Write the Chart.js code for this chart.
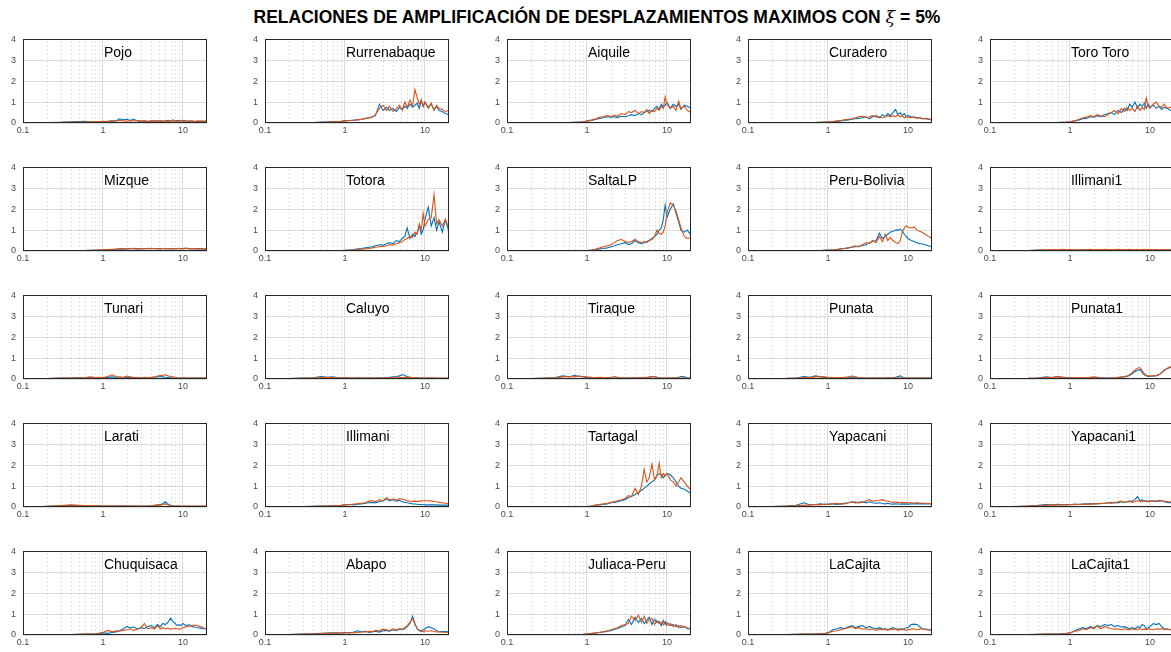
<!DOCTYPE html>
<html lang="es">
<head>
<meta charset="utf-8">
<title>Relaciones de amplificación</title>
<script src="https://cdn.jsdelivr.net/npm/chart.js@4.4.1/dist/chart.umd.min.js"></script>
<style>
  html, body { margin: 0; padding: 0; background: #fff; overflow: hidden; }
  body { width: 1171px; height: 652px; position: relative; font-family: "Liberation Sans", Arial, sans-serif; }
  #titulo { position: absolute; left: 0; width: 1194px; top: 9px; text-align: center; font-weight: bold;
            font-size: 17.5px; line-height: 17px; color: #000; white-space: nowrap; }
  #titulo i { font-family: "DejaVu Serif", serif; font-weight: normal; }
  canvas { position: absolute; }
</style>
</head>
<body>
<div id="titulo">RELACIONES DE AMPLIFICACIÓN DE DESPLAZAMIENTOS MAXIMOS CON <i>ξ</i> = 5%</div>
<script>
// frecuencias (Hz) comunes a todas las curvas
const frecuencias = [0.1, 0.2, 0.3, 0.4, 0.5, 0.6, 0.7, 0.8, 0.9, 1, 1.15, 1.3, 1.45, 1.6, 1.8, 2, 2.2, 2.4, 2.7, 3, 3.3, 3.6, 4, 4.4, 4.8, 5.2, 5.6, 6, 6.5, 7, 7.5, 8, 8.5, 9, 9.5, 10, 11, 12, 13, 14, 15, 16.5, 18, 20];

const ticksMayores = [0.1, 1, 10];
const ticksMenores = [0.2, 0.3, 0.4, 0.5, 0.6, 0.7, 0.8, 0.9, 2, 3, 4, 5, 6, 7, 8, 9];
const ticksY = [0, 1, 2, 3, 4];

// fila 1
const pojoAzul = [0.01,0.02,0.03,0.06,0.07,0.08,0.06,0.05,0.07,0.06, 0.08,0.1,0.09,0.2,0.15,0.18,0.12,0.19,0.1,0.08, 0.1,0.07,0.09,0.1,0.08,0.12,0.07,0.1,0.13,0.09, 0.15,0.1,0.12,0.13,0.1,0.12,0.1,0.09,0.08,0.07, 0.08,0.06,0.07,0.06];
const pojoNaranja = [0.01,0.02,0.03,0.04,0.05,0.06,0.05,0.07,0.06,0.08, 0.07,0.09,0.1,0.12,0.1,0.09,0.11,0.1,0.12,0.09, 0.1,0.08,0.1,0.09,0.1,0.08,0.09,0.1,0.08,0.1, 0.09,0.1,0.08,0.1,0.09,0.1,0.08,0.09,0.1,0.08, 0.09,0.1,0.09,0.1];
const rurrenabaqueAzul = [0,0,0.01,0.02,0.04,0.05,0.06,0.07,0.08,0.1, 0.12,0.14,0.15,0.18,0.2,0.25,0.3,0.35,0.9,0.6, 0.75,0.6,0.7,0.55,0.75,0.65,0.8,0.7,0.9,0.75, 0.85,0.95,0.7,1.1,0.8,1.0,0.75,0.9,0.65,0.8, 0.6,0.55,0.45,0.4];
const rurrenabaqueNaranja = [0,0,0.01,0.02,0.03,0.05,0.06,0.07,0.08,0.1, 0.12,0.13,0.16,0.17,0.22,0.25,0.28,0.4,0.7,0.85, 0.6,0.8,0.55,0.7,0.85,0.6,1.0,0.75,1.1,0.8, 1.6,1.2,0.9,1.1,0.8,1.0,0.7,0.95,0.6,0.85, 0.7,0.65,0.55,0.6];
const aiquileAzul = [0,0,0.01,0.01,0.02,0.02,0.03,0.04,0.05,0.08, 0.12,0.18,0.22,0.25,0.3,0.28,0.3,0.26,0.32,0.3, 0.35,0.4,0.35,0.45,0.4,0.5,0.55,0.6,0.55,0.7, 0.8,0.65,0.9,0.75,0.85,1.0,0.7,0.9,0.8,0.9, 0.65,0.85,0.8,0.7];
const aiquileNaranja = [0,0,0.01,0.01,0.02,0.02,0.03,0.04,0.06,0.1, 0.15,0.2,0.28,0.3,0.35,0.3,0.38,0.32,0.45,0.4, 0.55,0.5,0.6,0.45,0.55,0.5,0.65,0.45,0.6,0.55, 0.7,0.6,0.8,0.7,1.25,0.9,0.7,0.8,0.6,1.05, 0.7,0.8,0.6,0.5];
const curaderoAzul = [0,0,0,0.01,0.01,0.02,0.02,0.03,0.03,0.05, 0.06,0.08,0.1,0.12,0.15,0.18,0.2,0.22,0.25,0.3, 0.2,0.3,0.35,0.25,0.4,0.3,0.45,0.35,0.5,0.65, 0.4,0.5,0.35,0.45,0.3,0.35,0.3,0.28,0.25,0.25, 0.22,0.2,0.18,0.15];
const curaderoNaranja = [0,0,0,0.01,0.01,0.02,0.02,0.03,0.04,0.05, 0.07,0.1,0.12,0.15,0.18,0.2,0.25,0.3,0.32,0.25, 0.3,0.35,0.28,0.3,0.25,0.3,0.35,0.3,0.35,0.3, 0.4,0.3,0.35,0.25,0.3,0.28,0.25,0.28,0.22,0.25, 0.2,0.22,0.2,0.15];
const toroToroAzul = [0,0,0,0.01,0.01,0.02,0.02,0.03,0.04,0.06, 0.1,0.15,0.2,0.22,0.3,0.28,0.35,0.3,0.4,0.45, 0.5,0.4,0.6,0.5,0.7,0.6,0.9,0.75,1.0,0.7, 0.9,0.8,0.95,0.7,0.9,0.75,0.85,0.7,0.8,0.65, 0.75,0.7,0.6,0.55];
const toroToroNaranja = [0,0,0,0.01,0.01,0.02,0.02,0.03,0.04,0.06, 0.1,0.18,0.25,0.28,0.35,0.3,0.4,0.35,0.3,0.4, 0.5,0.6,0.45,0.7,0.55,0.75,0.6,0.7,0.55,0.8, 0.6,0.75,0.65,1.2,0.8,0.7,0.9,1.0,0.8,0.75, 0.9,0.7,0.75,0.7];

// fila 2
const mizqueAzul = [0,0,0.01,0.01,0.02,0.02,0.03,0.03,0.04,0.05, 0.06,0.07,0.08,0.1,0.09,0.1,0.12,0.1,0.11,0.1, 0.12,0.1,0.13,0.11,0.12,0.1,0.12,0.1,0.11,0.12, 0.1,0.11,0.12,0.13,0.1,0.12,0.14,0.1,0.12,0.1, 0.11,0.1,0.1,0.09];
const mizqueNaranja = [0,0,0.01,0.01,0.02,0.02,0.03,0.04,0.05,0.06, 0.07,0.08,0.09,0.1,0.12,0.1,0.11,0.13,0.1,0.12, 0.11,0.13,0.1,0.12,0.11,0.1,0.13,0.11,0.12,0.1, 0.12,0.11,0.1,0.12,0.11,0.1,0.12,0.11,0.1,0.12, 0.1,0.11,0.1,0.1];
const totoraAzul = [0,0,0,0,0,0.01,0.01,0.02,0.02,0.03, 0.05,0.07,0.1,0.12,0.15,0.18,0.2,0.25,0.3,0.28, 0.35,0.4,0.35,0.5,0.45,0.6,0.7,1.1,0.6,0.8, 0.7,0.9,1.2,0.8,1.0,1.5,2.1,1.2,1.6,1.0, 1.4,0.9,1.5,0.9];
const totoraNaranja = [0,0,0,0,0,0.01,0.01,0.01,0.02,0.03, 0.04,0.05,0.07,0.09,0.1,0.12,0.15,0.18,0.2,0.22, 0.25,0.3,0.28,0.35,0.4,0.45,0.55,0.6,0.7,0.65, 0.9,0.8,1.3,1.0,1.8,1.2,1.5,1.6,2.7,1.3, 1.5,1.2,1.5,1.1];
const saltaAzul = [0,0,0,0,0,0,0,0.01,0.01,0.02, 0.04,0.07,0.1,0.12,0.15,0.2,0.25,0.3,0.35,0.4, 0.3,0.35,0.5,0.4,0.35,0.4,0.45,0.5,0.6,0.7, 0.8,1.0,1.1,1.5,2.2,1.6,2.0,2.25,1.8,1.4, 1.0,0.9,1.0,0.75];
const saltaNaranja = [0,0,0,0,0,0,0,0.01,0.01,0.02, 0.05,0.1,0.15,0.2,0.25,0.3,0.4,0.5,0.55,0.45, 0.4,0.45,0.55,0.45,0.4,0.45,0.4,0.5,0.55,0.7, 1.0,0.85,0.8,0.9,1.2,1.8,2.3,2.2,1.9,1.5, 1.1,0.7,0.6,0.65];
const peruBoliviaAzul = [0,0,0,0,0.01,0.01,0.02,0.02,0.03,0.04, 0.05,0.07,0.1,0.12,0.15,0.18,0.2,0.22,0.25,0.3, 0.4,0.45,0.5,0.85,0.6,0.7,0.8,0.9,0.95,1.0, 1.0,1.05,0.95,0.8,0.7,0.6,0.5,0.45,0.4,0.35, 0.35,0.3,0.25,0.2];
const peruBoliviaNaranja = [0,0,0,0,0.01,0.01,0.02,0.02,0.03,0.04, 0.05,0.07,0.1,0.12,0.15,0.2,0.25,0.2,0.3,0.4, 0.35,0.5,0.4,0.7,0.45,0.8,0.5,0.65,0.5,0.4, 0.35,0.5,0.9,1.1,1.2,1.15,1.1,1.15,1.0,0.95, 0.9,0.8,0.7,0.6];
const illimani1Azul = [0,0.01,0.02,0.04,0.05,0.06,0.05,0.06,0.05,0.05, 0.04,0.05,0.06,0.05,0.06,0.05,0.07,0.06,0.05,0.06, 0.05,0.06,0.07,0.05,0.06,0.05,0.06,0.05,0.06,0.07, 0.05,0.06,0.05,0.06,0.05,0.06,0.05,0.06,0.05,0.06, 0.05,0.05,0.05,0.05];
const illimani1Naranja = [0,0.01,0.02,0.04,0.06,0.07,0.06,0.08,0.06,0.07, 0.06,0.05,0.07,0.06,0.08,0.06,0.07,0.06,0.08,0.07, 0.06,0.07,0.08,0.06,0.07,0.06,0.08,0.07,0.06,0.08, 0.06,0.07,0.08,0.07,0.06,0.07,0.06,0.07,0.06,0.07, 0.06,0.07,0.06,0.06];

// fila 3
const tunariAzul = [0,0.02,0.04,0.05,0.06,0.05,0.07,0.06,0.05,0.06, 0.08,0.1,0.07,0.06,0.05,0.08,0.07,0.06,0.05,0.06, 0.05,0.07,0.06,0.08,0.1,0.12,0.1,0.08,0.07,0.06, 0.05,0.05,0.05,0.04,0.04,0.04,0.04,0.04,0.04,0.04, 0.04,0.04,0.04,0.04];
const tunariNaranja = [0,0.02,0.04,0.05,0.06,0.07,0.1,0.07,0.08,0.07, 0.12,0.2,0.12,0.1,0.08,0.14,0.1,0.08,0.07,0.06, 0.08,0.07,0.08,0.1,0.14,0.16,0.18,0.2,0.15,0.12, 0.1,0.08,0.06,0.05,0.05,0.05,0.05,0.05,0.05,0.05, 0.05,0.05,0.05,0.05];
const caluyoAzul = [0,0.02,0.04,0.06,0.12,0.08,0.1,0.07,0.06,0.06, 0.05,0.05,0.06,0.05,0.04,0.05,0.04,0.05,0.06,0.05, 0.07,0.08,0.1,0.12,0.15,0.2,0.18,0.1,0.08,0.07, 0.06,0.06,0.05,0.05,0.04,0.04,0.04,0.04,0.04,0.03, 0.03,0.03,0.03,0.03];
const caluyoNaranja = [0,0.02,0.04,0.05,0.07,0.08,0.06,0.07,0.06,0.05, 0.06,0.05,0.06,0.05,0.05,0.06,0.05,0.05,0.06,0.05, 0.05,0.06,0.07,0.06,0.08,0.07,0.08,0.09,0.08,0.07, 0.06,0.06,0.05,0.05,0.05,0.04,0.04,0.04,0.04,0.04, 0.04,0.04,0.04,0.04];
const tiraqueAzul = [0,0.02,0.04,0.07,0.15,0.1,0.18,0.12,0.1,0.08, 0.06,0.05,0.06,0.05,0.07,0.06,0.05,0.06,0.05,0.04, 0.05,0.06,0.05,0.06,0.07,0.06,0.05,0.08,0.1,0.12, 0.08,0.06,0.05,0.05,0.05,0.04,0.05,0.06,0.05,0.08, 0.12,0.1,0.06,0.05];
const tiraqueNaranja = [0,0.02,0.04,0.06,0.1,0.12,0.1,0.14,0.12,0.1, 0.08,0.07,0.08,0.07,0.06,0.08,0.12,0.08,0.06,0.05, 0.06,0.05,0.06,0.07,0.06,0.08,0.07,0.1,0.12,0.1, 0.08,0.06,0.05,0.05,0.04,0.04,0.04,0.04,0.04,0.04, 0.04,0.04,0.04,0.04];
const punataAzul = [0,0.02,0.03,0.05,0.12,0.08,0.15,0.1,0.08,0.07, 0.06,0.05,0.06,0.05,0.06,0.07,0.06,0.05,0.04,0.05, 0.04,0.05,0.04,0.05,0.04,0.05,0.06,0.05,0.06,0.08, 0.12,0.15,0.1,0.06,0.05,0.04,0.04,0.04,0.04,0.04, 0.04,0.04,0.04,0.04];
const punataNaranja = [0,0.02,0.03,0.05,0.07,0.08,0.1,0.12,0.1,0.08, 0.07,0.06,0.07,0.08,0.1,0.14,0.12,0.07,0.06,0.05, 0.05,0.05,0.06,0.05,0.05,0.06,0.05,0.06,0.05,0.05, 0.06,0.06,0.05,0.05,0.05,0.04,0.04,0.04,0.04,0.04, 0.04,0.04,0.04,0.04];
const punata1Azul = [0,0.02,0.03,0.05,0.1,0.07,0.12,0.08,0.07,0.06, 0.05,0.05,0.06,0.05,0.06,0.07,0.08,0.06,0.05,0.04, 0.04,0.05,0.06,0.08,0.1,0.12,0.18,0.25,0.35,0.42, 0.45,0.3,0.2,0.15,0.12,0.12,0.14,0.15,0.2,0.3, 0.4,0.5,0.55,0.6];
const punata1Naranja = [0,0.02,0.03,0.05,0.07,0.08,0.1,0.09,0.07,0.06, 0.06,0.06,0.07,0.06,0.08,0.1,0.07,0.06,0.05,0.05, 0.05,0.06,0.08,0.1,0.12,0.15,0.22,0.3,0.42,0.52, 0.55,0.4,0.25,0.18,0.15,0.15,0.15,0.17,0.22,0.32, 0.42,0.52,0.58,0.62];

// fila 4
const laratiAzul = [0,0.03,0.06,0.08,0.07,0.06,0.05,0.06,0.05,0.04, 0.05,0.04,0.05,0.04,0.05,0.04,0.03,0.04,0.03,0.04, 0.03,0.04,0.05,0.06,0.1,0.12,0.15,0.25,0.15,0.08, 0.06,0.05,0.04,0.04,0.03,0.03,0.03,0.03,0.03,0.03, 0.03,0.03,0.03,0.03];
const laratiNaranja = [0,0.03,0.07,0.1,0.08,0.07,0.06,0.07,0.06,0.05, 0.06,0.05,0.06,0.05,0.06,0.05,0.06,0.05,0.04,0.05, 0.04,0.05,0.06,0.08,0.1,0.08,0.12,0.15,0.1,0.07, 0.05,0.05,0.05,0.04,0.04,0.04,0.04,0.04,0.04,0.04, 0.04,0.04,0.04,0.04];
const illimaniAzul = [0,0.01,0.02,0.03,0.04,0.05,0.06,0.07,0.08,0.1, 0.12,0.1,0.13,0.15,0.18,0.2,0.22,0.2,0.25,0.3, 0.38,0.3,0.35,0.28,0.32,0.25,0.22,0.2,0.18,0.15, 0.14,0.13,0.12,0.12,0.11,0.1,0.1,0.1,0.1,0.1, 0.09,0.09,0.09,0.08];
const illimaniNaranja = [0,0.01,0.02,0.03,0.04,0.05,0.06,0.07,0.08,0.1, 0.12,0.14,0.16,0.18,0.2,0.28,0.3,0.25,0.35,0.3, 0.45,0.35,0.38,0.32,0.4,0.38,0.35,0.3,0.28,0.27, 0.28,0.27,0.28,0.28,0.3,0.3,0.3,0.28,0.26,0.25, 0.22,0.2,0.18,0.15];
const tartagalAzul = [0,0,0,0,0,0,0,0.01,0.01,0.02, 0.05,0.08,0.1,0.12,0.15,0.2,0.22,0.25,0.3,0.35, 0.45,0.5,0.6,0.7,0.8,0.9,1.0,1.1,1.2,1.3, 1.5,1.6,1.55,1.4,1.5,1.6,1.55,1.4,1.2,1.0, 0.9,0.85,0.75,0.65];
const tartagalNaranja = [0,0,0,0,0,0,0,0.01,0.01,0.02, 0.05,0.1,0.12,0.15,0.18,0.22,0.25,0.3,0.35,0.4, 0.55,0.5,0.9,0.6,1.0,1.8,1.2,1.4,2.05,1.3, 1.5,2.1,1.4,1.6,1.5,1.6,1.3,1.2,1.0,1.2, 1.4,1.2,1.0,0.8];
const yapacaniAzul = [0,0.02,0.04,0.08,0.2,0.1,0.12,0.15,0.12,0.14, 0.15,0.12,0.15,0.18,0.2,0.25,0.2,0.22,0.25,0.2, 0.25,0.2,0.18,0.2,0.17,0.15,0.18,0.15,0.14,0.15, 0.14,0.13,0.15,0.14,0.15,0.14,0.15,0.15,0.16,0.15, 0.16,0.15,0.15,0.15];
const yapacaniNaranja = [0,0.02,0.04,0.06,0.08,0.1,0.12,0.1,0.14,0.12, 0.15,0.18,0.14,0.15,0.2,0.22,0.25,0.2,0.22,0.3, 0.35,0.28,0.3,0.32,0.35,0.3,0.28,0.25,0.22,0.24, 0.22,0.2,0.22,0.2,0.21,0.2,0.2,0.19,0.2,0.19, 0.18,0.18,0.17,0.17];
const yapacani1Azul = [0,0.02,0.04,0.08,0.12,0.1,0.13,0.1,0.12,0.11, 0.14,0.12,0.15,0.14,0.16,0.15,0.17,0.16,0.18,0.2, 0.18,0.22,0.2,0.25,0.22,0.26,0.25,0.28,0.35,0.5, 0.3,0.35,0.28,0.3,0.25,0.3,0.28,0.26,0.28,0.3, 0.25,0.22,0.2,0.2];
const yapacani1Naranja = [0,0.02,0.04,0.06,0.08,0.1,0.09,0.11,0.1,0.12, 0.11,0.13,0.12,0.15,0.13,0.16,0.15,0.18,0.17,0.2, 0.22,0.2,0.25,0.28,0.22,0.25,0.3,0.22,0.25,0.3, 0.28,0.25,0.3,0.27,0.28,0.25,0.3,0.28,0.32,0.3, 0.28,0.26,0.25,0.25];

// fila 5
const chuquisacaAzul = [0,0,0.01,0.02,0.03,0.04,0.05,0.06,0.08,0.1, 0.08,0.12,0.15,0.2,0.3,0.4,0.35,0.38,0.3,0.35, 0.3,0.4,0.45,0.35,0.5,0.4,0.55,0.5,0.6,0.8, 0.65,0.55,0.45,0.5,0.45,0.55,0.45,0.5,0.4,0.38, 0.35,0.33,0.3,0.28];
const chuquisacaNaranja = [0,0,0.01,0.02,0.03,0.04,0.05,0.06,0.08,0.12, 0.22,0.15,0.2,0.18,0.22,0.25,0.3,0.22,0.28,0.35, 0.55,0.3,0.35,0.28,0.45,0.3,0.35,0.3,0.32,0.28, 0.3,0.32,0.3,0.28,0.3,0.35,0.4,0.42,0.45,0.48, 0.45,0.4,0.35,0.3];
const abapoAzul = [0,0.02,0.04,0.06,0.08,0.09,0.1,0.09,0.1,0.12, 0.1,0.14,0.2,0.15,0.18,0.12,0.15,0.18,0.14,0.2, 0.22,0.18,0.25,0.22,0.28,0.25,0.3,0.4,0.55,0.9, 0.55,0.3,0.22,0.2,0.25,0.3,0.4,0.35,0.3,0.2, 0.18,0.17,0.16,0.15];
const abapoNaranja = [0,0.02,0.04,0.05,0.07,0.08,0.09,0.1,0.09,0.1, 0.12,0.1,0.12,0.14,0.15,0.18,0.16,0.22,0.2,0.28, 0.25,0.2,0.3,0.25,0.3,0.28,0.35,0.45,0.6,0.8, 0.5,0.3,0.2,0.18,0.15,0.2,0.18,0.2,0.17,0.15, 0.14,0.13,0.13,0.12];
const juliacaAzul = [0,0,0,0,0.01,0.01,0.02,0.02,0.03,0.05, 0.07,0.1,0.12,0.15,0.18,0.2,0.28,0.3,0.4,0.45, 0.75,0.5,0.85,0.6,0.8,0.55,0.7,0.85,0.5,0.75, 0.6,0.65,0.45,0.7,0.5,0.6,0.45,0.5,0.4,0.45, 0.35,0.4,0.3,0.28];
const juliacaNaranja = [0,0,0,0,0.01,0.01,0.02,0.02,0.03,0.05, 0.08,0.1,0.13,0.15,0.2,0.25,0.3,0.35,0.45,0.5, 0.55,0.9,0.7,0.95,0.6,0.9,0.55,0.75,0.8,0.5, 0.7,0.55,0.6,0.5,0.65,0.45,0.55,0.4,0.5,0.35, 0.45,0.4,0.35,0.3];
const laCajitaAzul = [0,0.01,0.02,0.03,0.04,0.05,0.05,0.06,0.07,0.1, 0.25,0.3,0.35,0.3,0.4,0.45,0.35,0.4,0.45,0.35, 0.4,0.35,0.3,0.35,0.3,0.28,0.25,0.3,0.35,0.3, 0.28,0.3,0.25,0.3,0.35,0.35,0.5,0.52,0.5,0.4, 0.3,0.28,0.25,0.25];
const laCajitaNaranja = [0,0.01,0.02,0.03,0.04,0.05,0.05,0.06,0.07,0.1, 0.18,0.2,0.25,0.3,0.35,0.4,0.3,0.35,0.28,0.3, 0.25,0.3,0.22,0.28,0.25,0.3,0.22,0.28,0.25,0.3, 0.22,0.25,0.3,0.25,0.22,0.25,0.28,0.3,0.25,0.28, 0.3,0.25,0.25,0.22];
const laCajita1Azul = [0,0.01,0.02,0.03,0.04,0.05,0.05,0.06,0.07,0.1, 0.2,0.3,0.35,0.3,0.4,0.35,0.45,0.4,0.5,0.45, 0.5,0.4,0.45,0.38,0.4,0.35,0.3,0.35,0.3,0.4, 0.35,0.5,0.45,0.3,0.35,0.4,0.55,0.5,0.55,0.4, 0.3,0.28,0.25,0.25];
const laCajita1Naranja = [0,0.01,0.02,0.03,0.04,0.05,0.05,0.06,0.07,0.1, 0.18,0.22,0.3,0.25,0.35,0.3,0.45,0.3,0.4,0.35, 0.3,0.28,0.3,0.25,0.3,0.28,0.25,0.3,0.25,0.28, 0.3,0.25,0.28,0.25,0.3,0.28,0.25,0.3,0.28,0.3, 0.25,0.28,0.25,0.25];

const estaciones = [
  ['Pojo', pojoAzul, pojoNaranja],
  ['Rurrenabaque', rurrenabaqueAzul, rurrenabaqueNaranja],
  ['Aiquile', aiquileAzul, aiquileNaranja],
  ['Curadero', curaderoAzul, curaderoNaranja],
  ['Toro Toro', toroToroAzul, toroToroNaranja],
  ['Mizque', mizqueAzul, mizqueNaranja],
  ['Totora', totoraAzul, totoraNaranja],
  ['SaltaLP', saltaAzul, saltaNaranja],
  ['Peru-Bolivia', peruBoliviaAzul, peruBoliviaNaranja],
  ['Illimani1', illimani1Azul, illimani1Naranja],
  ['Tunari', tunariAzul, tunariNaranja],
  ['Caluyo', caluyoAzul, caluyoNaranja],
  ['Tiraque', tiraqueAzul, tiraqueNaranja],
  ['Punata', punataAzul, punataNaranja],
  ['Punata1', punata1Azul, punata1Naranja],
  ['Larati', laratiAzul, laratiNaranja],
  ['Illimani', illimaniAzul, illimaniNaranja],
  ['Tartagal', tartagalAzul, tartagalNaranja],
  ['Yapacani', yapacaniAzul, yapacaniNaranja],
  ['Yapacani1', yapacani1Azul, yapacani1Naranja],
  ['Chuquisaca', chuquisacaAzul, chuquisacaNaranja],
  ['Abapo', abapoAzul, abapoNaranja],
  ['Juliaca-Peru', juliacaAzul, juliacaNaranja],
  ['LaCajita', laCajitaAzul, laCajitaNaranja],
  ['LaCajita1', laCajita1Azul, laCajita1Naranja]
];

// posicion del area de cada grafico (px)
const columnas = [23, 265, 507, 748, 990];
const filas = [32, 160, 288, 416, 544];
const FUENTE = '"Liberation Sans", Arial, sans-serif';

// rejilla menor punteada, marco y nombre de la estacion
const marcoPanel = {
  id: 'marcoPanel',
  beforeDatasetsDraw(chart) {
    const { ctx, chartArea: a, scales: { x } } = chart;
    ctx.save();
    ctx.strokeStyle = '#c6c6c6';
    ctx.lineWidth = 1;
    ctx.setLineDash([1, 3]);
    for (const v of ticksMenores) {
      const px = Math.round(x.getPixelForValue(v)) + 0.5;
      ctx.beginPath();
      ctx.moveTo(px, a.top + 2);
      ctx.lineTo(px, a.bottom);
      ctx.stroke();
    }
    ctx.restore();
  },
  afterDatasetsDraw(chart, args, opts) {
    const { ctx, chartArea: a, scales: { x } } = chart;
    ctx.save();
    ctx.strokeStyle = '#262626';
    ctx.lineWidth = 1;
    ctx.strokeRect(Math.round(a.left) + 0.5, Math.round(a.top) + 0.5, Math.round(a.width) - 1, Math.round(a.height) - 1);
    ctx.fillStyle = '#000';
    ctx.font = '14px ' + FUENTE;
    ctx.textBaseline = 'middle';
    ctx.fillText(opts.nombre, x.getPixelForValue(1) + 1, a.top + 14);
    ctx.restore();
  }
};

const errores = [];

estaciones.forEach(([nombre, azul, naranja], i) => {
  if (azul.length !== frecuencias.length) errores.push(nombre + ' azul ' + azul.length);
  if (naranja.length !== frecuencias.length) errores.push(nombre + ' naranja ' + naranja.length);

  const canvas = document.createElement('canvas');
  canvas.width = 208;
  canvas.height = 110;
  canvas.style.left = (columnas[i % 5] - 22) + 'px';
  canvas.style.top = (filas[Math.floor(i / 5)] - 5) + 'px';
  document.body.appendChild(canvas);

  new Chart(canvas, {
    type: 'line',
    data: {
      datasets: [
        { data: naranja.map((y, k) => ({ x: frecuencias[k], y })), borderColor: '#D95319', order: 1 },
        { data: azul.map((y, k) => ({ x: frecuencias[k], y })), borderColor: '#0072BD', order: 2 }
      ]
    },
    options: {
      responsive: false,
      animation: false,
      layout: { padding: { top: 5, right: 2, left: 0, bottom: 0 } },
      elements: { line: { borderWidth: 1.1, tension: 0 }, point: { radius: 0 } },
      plugins: { legend: { display: false }, tooltip: { enabled: false }, marcoPanel: { nombre } },
      scales: {
        x: {
          type: 'logarithmic', min: 0.1, max: 20,
          afterBuildTicks: s => { s.ticks = ticksMayores.map(v => ({ value: v })); },
          afterFit: s => { s.height = 14; },
          grid: { color: '#dcdcdc', drawTicks: false },
          border: { display: false },
          ticks: { autoSkip: false, maxRotation: 0, minRotation: 0, padding: 2, color: '#4a4a4a',
                   font: { size: 9, family: FUENTE }, callback: v => String(v) }
        },
        y: {
          min: 0, max: 4,
          afterBuildTicks: s => { s.ticks = ticksY.map(v => ({ value: v })); },
          afterFit: s => { s.width = 22; },
          grid: { color: '#dcdcdc', drawTicks: false },
          border: { display: false },
          ticks: { padding: 7, color: '#4a4a4a', font: { size: 9, family: FUENTE } }
        }
      }
    },
    plugins: [marcoPanel]
  });
});

if (errores.length) throw new Error('longitudes: ' + errores.join(', '));
</script>
</body>
</html>
